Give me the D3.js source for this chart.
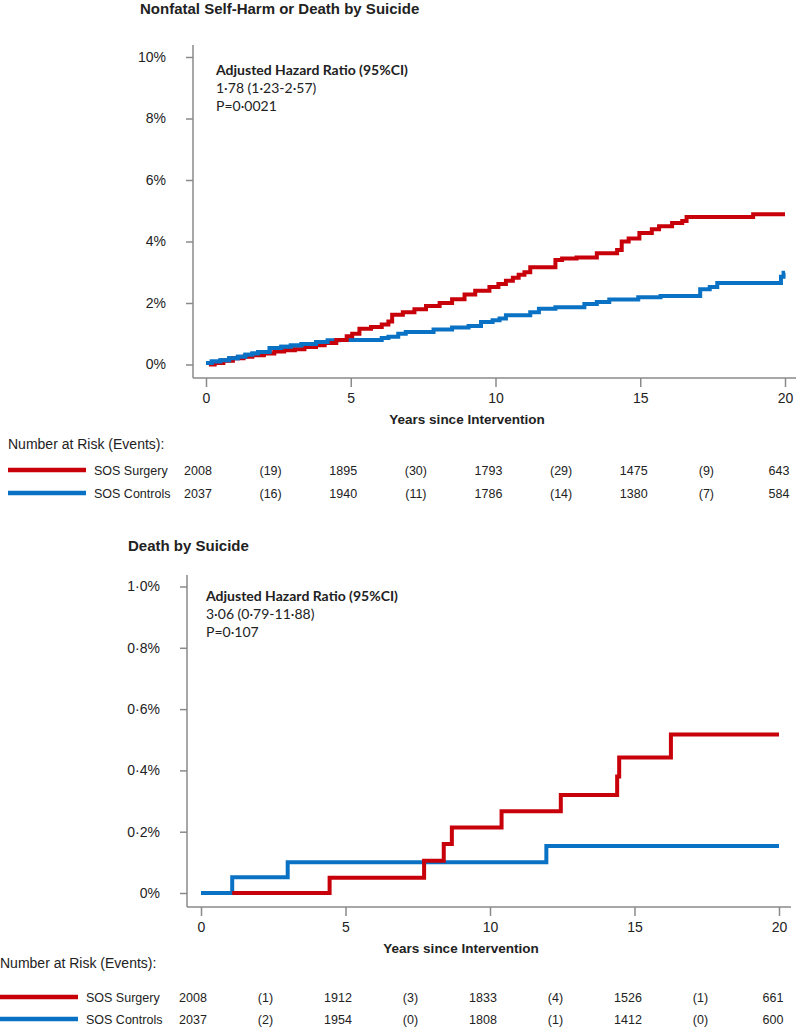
<!DOCTYPE html>
<html>
<head>
<meta charset="utf-8">
<script src="https://cdn.jsdelivr.net/npm/d3@7"></script>
<style>
  body { margin: 0; background: #fff; }
  svg text { font-family: "Liberation Sans", Arial, sans-serif; fill: #222; }
  .note { font-family: Lato, "Open Sans", sans-serif; }
</style>
</head>
<body>
<svg id="chart" width="800" height="1027"></svg>
<script>
// ---- data ----
var years = [0, 5, 10, 15, 20];
var riskLabels = ["SOS Surgery", "SOS Controls"];

// top panel: nonfatal self-harm or death by suicide (cumulative %, step times in years)
var topSurgT = [0.1, 0.3, 0.6, 0.93, 1.3, 1.6, 2.0, 2.36, 2.7, 3.07, 3.4, 3.8, 4.1, 4.5, 4.86, 5.05, 5.3, 5.7, 6.07, 6.3, 6.43, 6.8, 7.2, 7.6, 8.07, 8.5, 8.93, 9.3, 9.79, 10.1, 10.36, 10.6, 10.8, 11.0, 11.2, 12.07, 12.3, 12.8, 13.5, 14.2, 14.36, 14.6, 14.97, 15.4, 15.65, 16.1, 16.45, 16.6, 18.9, 20];
var topSurgV = [0, 0.05, 0.12, 0.2, 0.25, 0.3, 0.36, 0.42, 0.46, 0.5, 0.57, 0.63, 0.7, 0.8, 0.92, 1.0, 1.16, 1.22, 1.3, 1.4, 1.62, 1.7, 1.8, 1.9, 2.0, 2.12, 2.28, 2.4, 2.52, 2.62, 2.72, 2.82, 2.92, 3.0, 3.16, 3.4, 3.45, 3.48, 3.62, 3.72, 4.0, 4.1, 4.28, 4.4, 4.5, 4.6, 4.67, 4.8, 4.89, 4.89];
var topCtrlT = [0, 0.2, 0.5, 0.8, 1.1, 1.36, 1.6, 1.8, 2.2, 2.6, 2.93, 3.3, 3.8, 4.2, 4.6, 6.07, 6.3, 6.64, 6.9, 7.86, 8.5, 9.07, 9.5, 9.9, 10.14, 10.36, 11.2, 11.5, 12.07, 13.07, 13.5, 13.93, 14.93, 15.7, 17.07, 17.4, 17.66, 19.86, 19.95, 20];
var topCtrlV = [0.05, 0.1, 0.14, 0.2, 0.25, 0.32, 0.36, 0.41, 0.54, 0.58, 0.62, 0.67, 0.73, 0.79, 0.8, 0.86, 0.9, 1.0, 1.06, 1.14, 1.2, 1.25, 1.38, 1.44, 1.5, 1.6, 1.7, 1.81, 1.86, 1.97, 2.03, 2.11, 2.19, 2.23, 2.45, 2.52, 2.65, 2.85, 2.98, 2.98];
var topYTicks = [0, 2, 4, 6, 8, 10];
var topYLabels = ["0%", "2%", "4%", "6%", "8%", "10%"];
var topRisk = [["2008", "(19)", "1895", "(30)", "1793", "(29)", "1475", "(9)", "643"],
               ["2037", "(16)", "1940", "(11)", "1786", "(14)", "1380", "(7)", "584"]];
var topNote = ["Adjusted Hazard Ratio (95%CI)", "1·78 (1·23-2·57)", "P=0·0021"];

// bottom panel: death by suicide
var botSurgT = [1.08, 4.45, 7.72, 8.4, 8.68, 10.4, 12.45, 14.4, 14.47, 16.26, 20];
var botSurgV = [0, 0.05, 0.105, 0.16, 0.214, 0.267, 0.32, 0.38, 0.442, 0.517, 0.517];
var botCtrlT = [0, 1.08, 3.0, 11.95, 20];
var botCtrlV = [0, 0.051, 0.1, 0.153, 0.153];
var botYTicks = [0, 0.2, 0.4, 0.6, 0.8, 1.0];
var botYLabels = ["0%", "0·2%", "0·4%", "0·6%", "0·8%", "1·0%"];
var botRisk = [["2008", "(1)", "1912", "(3)", "1833", "(4)", "1526", "(1)", "661"],
               ["2037", "(2)", "1954", "(0)", "1808", "(1)", "1412", "(0)", "600"]];
var botNote = ["Adjusted Hazard Ratio (95%CI)", "3·06 (0·79-11·88)", "P=0·107"];

var RED = "#c8000a", BLUE = "#0a72c4", AXIS = "#8a8a8a";

var svg = d3.select("#chart");

function zipSeries(t, v) {
  return t.map(function(d, i) { return [d, v[i]]; });
}

function drawPanel(o) {
  var g = svg.append("g");
  var x = d3.scaleLinear().domain([0, 20]).range([o.x0, o.x1]);
  var y = d3.scaleLinear().domain([0, o.yMax]).range([o.y0, o.y1]);

  g.append("text").attr("x", o.titleX).attr("y", o.titleY)
    .attr("font-size", 15).attr("font-weight", "bold").text(o.title);

  // axis lines (L shape)
  g.append("line").attr("x1", o.axX).attr("x2", o.axX).attr("y1", o.axTop).attr("y2", o.axY)
    .attr("stroke", AXIS).attr("stroke-width", 1.5);
  g.append("line").attr("x1", o.axX).attr("x2", o.axRight).attr("y1", o.axY).attr("y2", o.axY)
    .attr("stroke", AXIS).attr("stroke-width", 1.5);

  var ya = d3.axisLeft(y).tickValues(o.yTicks)
    .tickFormat(function(d, i) { return o.yLabels[i]; })
    .tickSize(7).tickPadding(20);
  var yg = g.append("g").attr("transform", "translate(" + o.axX + ",0)").call(ya);
  yg.select(".domain").remove();
  yg.selectAll("line").attr("stroke", AXIS).attr("stroke-width", 1.5);
  yg.selectAll("text").attr("font-size", 14).attr("font-family", "Liberation Sans, Arial").attr("fill", "#333");

  var xa = d3.axisBottom(x).tickValues(years).tickSize(9).tickPadding(6);
  var xg = g.append("g").attr("transform", "translate(0," + o.axY + ")").call(xa);
  xg.select(".domain").remove();
  xg.selectAll("line").attr("stroke", AXIS).attr("stroke-width", 1.5);
  xg.selectAll("text").attr("font-size", 14).attr("font-family", "Liberation Sans, Arial").attr("fill", "#333");

  g.append("text").attr("x", o.xTitleX).attr("y", o.axY + 46).attr("text-anchor", "middle")
    .attr("font-size", 13.5).attr("font-weight", "bold").text("Years since Intervention");

  // annotation
  g.selectAll(".note").data(o.note).enter().append("text")
    .attr("class", "note")
    .attr("x", o.noteX).attr("y", function(d, i) { return o.noteY + i * 18; })
    .attr("font-size", 14).attr("font-weight", function(d, i) { return i === 0 ? "bold" : "normal"; })
    .text(function(d) { return d; });

  var line = d3.line().curve(d3.curveStepAfter)
    .x(function(d) { return x(d[0]); }).y(function(d) { return y(d[1]); });
  g.append("path").datum(zipSeries(o.ctrlT, o.ctrlV)).attr("d", line)
    .attr("fill", "none").attr("stroke", BLUE).attr("stroke-width", 4);
  g.append("path").datum(zipSeries(o.surgT, o.surgV)).attr("d", line)
    .attr("fill", "none").attr("stroke", RED).attr("stroke-width", 4);
  if (o.blueOnTop) {
    g.append("path").datum(zipSeries(o.ctrlT, o.ctrlV).filter(function(d) { return d[0] < 4.4; })).attr("d", line)
      .attr("fill", "none").attr("stroke", BLUE).attr("stroke-width", 4);
  }

  // number at risk table
  var tx = d3.scaleLinear().domain([0, 20]).range([x(0) - 8, x(20) - 6]);
  g.append("text").attr("x", o.riskX).attr("y", o.riskY).attr("font-size", 14)
    .attr("fill", "#333").text("Number at Risk (Events):");
  [RED, BLUE].forEach(function(c, r) {
    var ry = o.rowY[r];
    g.append("line").attr("x1", o.riskX).attr("x2", o.riskX + 78).attr("y1", ry).attr("y2", ry)
      .attr("stroke", c).attr("stroke-width", 4.5);
    g.append("text").attr("x", o.riskX + 86).attr("y", ry + 4.5).attr("font-size", 12.5)
      .attr("fill", "#333").text(riskLabels[r]);
    g.selectAll(".rk" + r).data(o.risk[r]).enter().append("text")
      .attr("x", function(d, i) { return tx(i * 2.5); })
      .attr("y", ry + 4.5).attr("text-anchor", "middle").attr("font-size", 12.5)
      .attr("fill", "#333").text(function(d) { return d; });
  });
}

drawPanel({
  title: "Nonfatal Self-Harm or Death by Suicide", titleX: 140, titleY: 14,
  x0: 206, x1: 785, y0: 364.5, y1: 57, yMax: 10,
  axX: 193, axTop: 45, axY: 378, axRight: 796, xTitleX: 467,
  yTicks: topYTicks, yLabels: topYLabels,
  note: topNote, noteX: 216, noteY: 75,
  surgT: topSurgT, surgV: topSurgV, ctrlT: topCtrlT, ctrlV: topCtrlV, blueOnTop: true,
  risk: topRisk, riskX: 8, riskY: 449, rowY: [470, 493]
});

drawPanel({
  title: "Death by Suicide", titleX: 128, titleY: 551,
  x0: 201, x1: 779, y0: 893, y1: 586.5, yMax: 1.0,
  axX: 187, axTop: 575, axY: 907, axRight: 791, xTitleX: 461,
  yTicks: botYTicks, yLabels: botYLabels,
  note: botNote, noteX: 206, noteY: 601,
  surgT: botSurgT, surgV: botSurgV, ctrlT: botCtrlT, ctrlV: botCtrlV, blueOnTop: false,
  risk: botRisk, riskX: 0, riskY: 968, rowY: [997, 1019]
});
</script>
</body>
</html>
